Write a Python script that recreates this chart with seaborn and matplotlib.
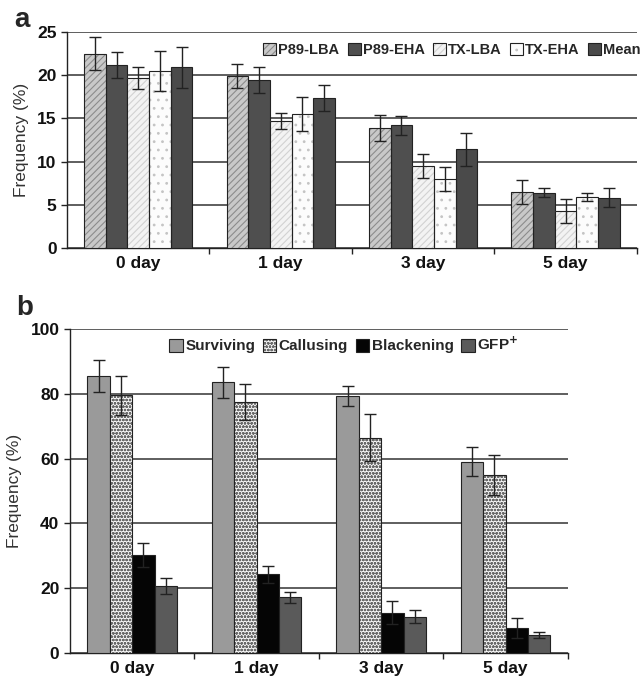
import numpy as np
import pandas as pd
import matplotlib
matplotlib.use("Agg")
import matplotlib.pyplot as plt
from matplotlib.patches import Patch, Rectangle
from matplotlib.legend_handler import HandlerTuple
from matplotlib.ticker import FixedLocator
import seaborn as sns

# Panel a data
days = ["0 day", "1 day", "3 day", "5 day"]
lines_a = ["P89-LBA", "P89-EHA", "TX-LBA", "TX-EHA", "Mean"]
p89_lba = [22.5, 19.9, 13.9, 6.5]
p89_lba_err = [1.9, 1.4, 1.5, 1.4]
p89_eha = [21.2, 19.4, 14.2, 6.4]
p89_eha_err = [1.5, 1.5, 1.1, 0.5]
tx_lba = [19.7, 14.7, 9.5, 4.3]
tx_lba_err = [1.3, 0.9, 1.4, 1.4]
tx_eha = [20.5, 15.5, 8.0, 5.9]
tx_eha_err = [2.3, 2.0, 1.4, 0.5]
mean_a = [20.9, 17.4, 11.4, 5.8]
mean_a_err = [2.4, 1.5, 1.9, 1.1]

# Panel b data
traits_b = ["Surviving", "Callusing", "Blackening", "GFP$^{\\mathbf{+}}$"]
surviving = [85.5, 83.5, 79.3, 59.0]
surviving_err = [5.0, 4.8, 3.2, 4.5]
callusing = [79.5, 77.5, 66.5, 55.0]
callusing_err = [6.0, 5.5, 7.3, 6.2]
blackening = [30.3, 24.3, 12.5, 7.8]
blackening_err = [3.8, 2.7, 3.5, 3.0]
gfp = [20.7, 17.2, 11.2, 5.5]
gfp_err = [2.5, 1.6, 2.0, 1.0]

# (face colour, hatch, hatch colour)
style_a = {
    "P89-LBA": ("#c9c9c9", "/////", "#8c8c8c"),
    "P89-EHA": ("#4f4f4f", "", None),
    "TX-LBA": ("#f3f3f3", "/////", "#d2d2d2"),
    "TX-EHA": ("#fcfcfc", "..", "#c4c4c4"),
    "Mean": ("#4a4a4a", "", None),
}
style_b = {
    traits_b[0]: ("#9a9a9a", "", None),
    traits_b[1]: ("#f6f6f6", "ooooo", "#6a6a6a"),
    traits_b[2]: ("#050505", "", None),
    traits_b[3]: ("#5a5a5a", "", None),
}
EDGE = "#222222"

sns.set_theme(style="white")
plt.rcParams["font.family"] = ["Liberation Sans", "DejaVu Sans"]
plt.rcParams["hatch.linewidth"] = 0.8


def long_frame(names, vals, errs):
    rows = []
    for n, v, e in zip(names, vals, errs):
        for d, vv, ee in zip(days, v, e):
            rows.append({"day": d, "group": n, "value": vv, "err": ee})
    return pd.DataFrame(rows)


def draw_panel(ax, df, names, styles, ymax, step, width):
    sns.barplot(data=df, x="day", y="value", hue="group", hue_order=names,
                order=days, errorbar=None, width=width, ax=ax,
                edgecolor=EDGE, linewidth=0.8, legend=False, zorder=3)
    for name, cont in zip(names, ax.containers):
        face, hatch, hcol = styles[name]
        sub = df[df.group == name].set_index("day").loc[days]
        xs = []
        for bar in cont:
            bar.set_facecolor(face)
            if hatch:
                # hatch drawn in its own colour, dark outline drawn on top
                bar.set_hatch(hatch)
                bar.set_edgecolor(hcol)
                bar.set_linewidth(0)
                ax.add_patch(Rectangle(bar.get_xy(), bar.get_width(), bar.get_height(),
                                       fill=False, edgecolor=EDGE, linewidth=0.8,
                                       zorder=3.5))
            xs.append(bar.get_x() + bar.get_width() / 2)
        ax.errorbar(xs, sub["value"].values, yerr=sub["err"].values, fmt="none",
                    ecolor=EDGE, elinewidth=1.0, capsize=4.5, capthick=1.0, zorder=4)
    ax.set_ylim(0, ymax)
    ax.set_xlim(-0.5, 3.5)
    ax.set_yticks(np.arange(0, ymax + 1, step))
    ax.yaxis.grid(True, color="#333333", linewidth=1.1, zorder=0)
    ax.set_axisbelow(True)
    for s in ["top", "right"]:
        ax.spines[s].set_visible(False)
    for s in ["left", "bottom"]:
        ax.spines[s].set_color(EDGE)
        ax.spines[s].set_linewidth(1.0)
    ax.set_xlabel("")
    ax.set_ylabel("Frequency (%)", fontsize=12.5, color="#333333", labelpad=6)
    ax.xaxis.set_minor_locator(FixedLocator([0.5, 1.5, 2.5, 3.5]))
    ax.tick_params(axis="x", which="major", length=0, labelsize=12.5, pad=6)
    ax.tick_params(axis="x", which="minor", length=4, width=1, direction="out",
                   color=EDGE, bottom=True)
    ax.tick_params(axis="y", length=4, width=1, direction="out", labelsize=12.5,
                   left=True, color=EDGE)
    for lab in ax.get_xticklabels() + ax.get_yticklabels():
        lab.set_fontweight("bold")
        lab.set_color("#111111")


fig = plt.figure(figsize=(6.41, 6.81), dpi=100)
ax_a = fig.add_axes([0.1045, 0.636, 0.889, 0.317])
ax_b = fig.add_axes([0.109, 0.041, 0.777, 0.476])

df_a = long_frame(lines_a, [p89_lba, p89_eha, tx_lba, tx_eha, mean_a],
                  [p89_lba_err, p89_eha_err, tx_lba_err, tx_eha_err, mean_a_err])
df_b = long_frame(traits_b, [surviving, callusing, blackening, gfp],
                  [surviving_err, callusing_err, blackening_err, gfp_err])

draw_panel(ax_a, df_a, lines_a, style_a, 25, 5, 0.76)
draw_panel(ax_b, df_b, traits_b, style_b, 100, 20, 0.72)


def legend_for(ax, names, styles, loc, anchor, size, colsp):
    handles = []
    for n in names:
        face, hatch, hcol = styles[n]
        if hatch:
            fillp = Patch(facecolor=face, hatch=hatch, edgecolor=hcol, linewidth=0)
            outline = Patch(fill=False, edgecolor=EDGE, linewidth=0.8)
            handles.append((fillp, outline))
        else:
            handles.append(Patch(facecolor=face, edgecolor=EDGE, linewidth=0.8))
    leg = ax.legend(handles, names, loc=loc, bbox_to_anchor=anchor, ncol=len(names),
                    frameon=False, handlelength=0.9, handleheight=0.9,
                    handletextpad=0.15, columnspacing=colsp,
                    handler_map={tuple: HandlerTuple(ndivide=1, pad=0)},
                    prop={"weight": "bold", "size": size})
    return leg


legend_for(ax_a, lines_a, style_a, "upper right", (1.03, 1.01), 10.5, 0.55)
legend_for(ax_b, traits_b, style_b, "upper center", (0.55, 1.02), 11, 0.5)

fig.text(0.022, 0.97, "a", fontsize=20, fontweight="bold", va="center")
fig.text(0.025, 0.548, "b", fontsize=20, fontweight="bold", va="center")

fig.savefig("out.png", dpi=100)
